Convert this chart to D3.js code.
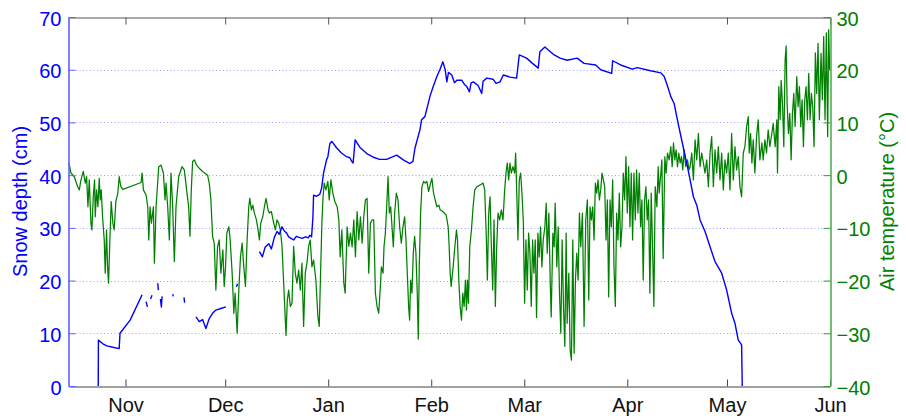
<!DOCTYPE html>
<html>
<head>
<meta charset="utf-8">
<script src="https://cdn.jsdelivr.net/npm/d3@7"></script>
<style>
  body { margin: 0; background: #fff; }
  text { font-family: "Liberation Sans", Arial, sans-serif; }
</style>
</head>
<body>
<svg id="chart" width="906" height="420"></svg>
<script>
// Season window (UTC)
const seasonStart = Date.UTC(2010, 9, 15);
const seasonEnd = Date.UTC(2011, 5, 1);

// Month ticks on the time axis
const monthTicks = ["2010-11-01", "2010-12-01", "2011-01-01", "2011-02-01",
                    "2011-03-01", "2011-04-01", "2011-05-01", "2011-06-01"];
const depthTicks = [0, 10, 20, 30, 40, 50, 60, 70];
const tempTicks = [-40, -30, -20, -10, 0, 10, 20, 30];

// Snow depth: [days since 15 Oct, cm]; null marks a gap in the record
const snowDepth = [
  [8.8, 0], [8.85, 8.7], [10.2, 8.0], [11.4, 7.6], [13.5, 7.3], [15.1, 7.1], [15.35, 10.0], [18.4, 12.5], [22.0, 17.3], null,
  [23.2, 16.0], [23.6, 15.0], null, [24.5, 16.5], [25.0, 17.2], null, [26.7, 19.5], [26.9, 18.2], null,
  [27.5, 16.5], [27.8, 15.0], [28.0, 17.0], null, [31.2, 17.4], [31.4, 17.0], null, [34.6, 16.8], [34.8, 15.8], null,
  [38.2, 13.1], [39.2, 12.2], [40.2, 12.6], [41.2, 10.9], [42.2, 12.8], [43.2, 13.8], [44.2, 14.4], [45.7, 14.7], [47.2, 15.0], null,
  [50.4, 18.8], [50.7, 19.4], null,
  [57.3, 25.5], [58.2, 24.5], [59.0, 26.3], [60.1, 27.0], [60.9, 26.0], [61.8, 28.2], [62.6, 29.3], [63.3, 28.8], [64.1, 30.2],
  [64.8, 29.4], [65.5, 29.0], [66.1, 28.3], [66.8, 28.0], [67.6, 27.7], [68.4, 28.4], [69.2, 28.2], [70.2, 28.0], [71.2, 28.3],
  [72.0, 28.1], [72.5, 28.6], [73.0, 28.3], [73.4, 32.0], [73.6, 36.2], [74.5, 36.0], [75.5, 36.4], [76.0, 37.5], [76.6, 40.4],
  [77.5, 42.9], [77.9, 43.5], [78.5, 46.0], [79.1, 46.4], [80.5, 45.2], [82.0, 44.2], [83.5, 43.5], [84.5, 43.3], [85.1, 42.6],
  [85.5, 42.3], [86.1, 46.7], [87.5, 45.3], [89.6, 44.1], [91.6, 43.4], [93.5, 43.0], [95.6, 43.0], [97.5, 43.5], [98.6, 43.8],
  [100.6, 42.9], [102.6, 42.2], [103.5, 42.6], [104.1, 45.1], [105.6, 48.6], [106.1, 50.5], [107.1, 51.1], [108.1, 53.6],
  [108.6, 54.9], [109.6, 56.8], [110.7, 58.7], [111.6, 60.0], [112.5, 61.5], [113.2, 60.0], [113.7, 57.7], [114.2, 59.5],
  [115.2, 59.0], [116.0, 57.5], [116.7, 58.0], [118.2, 58.0], [119.0, 57.2], [119.7, 56.8], [120.5, 55.8], [121.0, 57.5],
  [121.7, 57.7], [123.1, 57.0], [124.2, 55.5], [124.6, 57.8], [125.7, 58.4], [127.6, 58.2], [128.5, 57.4], [129.7, 57.7],
  [130.7, 59.0], [132.7, 58.6], [134.7, 58.4], [135.5, 62.8], [137.7, 62.2], [139.3, 61.3], [141.2, 60.3], [141.7, 63.4],
  [143.2, 64.3], [146.0, 62.8], [147.8, 62.2], [149.9, 61.8], [152.9, 62.2], [155.0, 61.2], [158.5, 60.9], [160.0, 60.0],
  [163.3, 59.3], [163.6, 61.7], [166.0, 60.9], [169.5, 60.1], [171.0, 60.4], [175.0, 59.8], [178.1, 59.4], [179.1, 58.7],
  [180.0, 57.1], [181.1, 54.9], [182.1, 53.6], [182.6, 52.0], [183.3, 49.8], [184.6, 46.0], [186.1, 41.6], [186.9, 39.1],
  [187.9, 35.9], [188.9, 34.3], [189.9, 31.5], [191.4, 29.3], [192.9, 26.4], [194.4, 23.6], [196.4, 21.4], [197.9, 18.2],
  [199.4, 13.8], [200.4, 11.9], [201.4, 8.7], [202.4, 7.8], [202.6, 0]
];

// Air temperature: [days since 15 Oct, °C]
const airTemp = [
  [0,2.3],[0.6,0.4],[1.6,-0.3],[2.6,-2.2],[3.1,-2.8],[3.6,-0.9],[4.3,0.7],[4.9,-1.5],[5.3,-0.3],[5.7,-6.0],[6.1,-0.9],[6.6,-9.1],
  [6.9,-10.4],[7.3,-4.1],[7.7,-0.9],[7.9,-7.9],[8.3,-2.8],[8.7,-6.0],[9.1,-0.6],[9.4,-4.7],[9.7,-2.8],[10.1,-7.9],[10.6,-12.3],
  [10.9,-18.6],[11.3,-10.4],[11.6,-17.3],[11.9,-20.5],[12.3,-12.3],[12.7,-5.0],[13.2,-9.1],[13.6,-10.4],[14.1,-5.0],[14.7,-3.4],
  [15.1,-0.3],[15.6,-2.2],[16.2,-2.7],
  [21.7,-1.4],[22.0,0.4],[22.4,-2.8],[23.2,-3.8],[23.7,-6.0],[24.0,-12.3],[24.4,-6.0],[24.8,-9.1],[25.4,-6.0],[25.7,-16.7],
  [26.2,-6.0],[27.0,1.6],[27.7,1.9],[28.4,0.4],[28.9,-4.7],[29.2,-1.5],[29.7,-6.0],[30.2,-12.3],[30.7,0.4],[31.2,-6.0],
  [31.7,-16.4],[32.2,-6.0],[33.0,-0.3],[34.0,1.6],[34.7,1.0],[35.4,-2.8],[36.0,-6.0],[36.4,-11.6],[36.8,-2.8],[37.2,2.6],
  [37.7,2.9],[38.4,1.9],[39.2,1.3],[40.2,0.7],[41.7,0.0],[42.2,-1.5],[42.7,-4.7],[43.2,-11.6],[43.7,-12.9],[44.2,-21.8],
  [44.7,-13.6],[45.2,-12.3],[45.7,-18.6],[46.3,-14.2],[46.7,-21.1],[47.1,-17.4],[47.5,-11.0],[48.1,-9.8],[48.5,-12.3],
  [49.1,-18.6],[49.6,-26.2],[50.0,-22.4],[50.6,-30.0],[51.1,-21.8],[51.6,-15.5],[52.1,-12.9],[52.6,-17.4],[53.1,-21.1],
  [53.6,-12.3],[54.1,-6.0],[54.4,-4.4],[54.9,-6.6],[55.3,-5.7],[55.8,-7.2],[56.4,-8.5],[56.9,-10.4],[57.3,-12.3],[57.7,-9.1],
  [58.3,-7.9],[58.8,-6.0],[59.3,-4.4],[59.9,-6.6],[60.3,-7.2],[60.9,-6.9],[61.6,-9.1],[62.1,-10.4],[62.6,-8.5],[63.1,-9.1],
  [63.6,-10.4],[64.1,-13.5],[64.6,-20.5],[65.1,-27.5],[65.3,-30.4],[65.7,-23.7],[66.1,-21.8],[66.6,-24.9],[67.1,-24.3],
  [67.6,-13.5],[68.1,-18.6],[68.6,-20.5],[69.1,-18.0],[69.6,-21.8],[70.1,-16.7],[70.6,-28.7],[71.1,-18.6],[71.6,-16.7],
  [72.1,-13.5],[72.6,-12.3],[73.1,-17.4],[73.6,-16.1],[74.3,-19.9],[74.9,-26.9],[75.3,-28.7],[75.7,-18.6],[76.1,-9.1],
  [76.4,-4.7],[76.8,-1.5],[77.3,-2.8],[77.9,-1.2],[78.3,-4.7],[78.8,-0.9],[79.4,-3.4],[80.0,-5.0],[80.7,-6.0],[81.2,-8.5],
  [81.6,-15.5],[82.1,-10.4],[82.7,-20.5],[83.1,-22.4],[83.7,-9.8],[84.2,-13.5],[84.7,-11.0],[85.2,-13.6],[85.7,-8.5],
  [86.2,-15.5],[86.7,-6.9],[87.2,-12.3],[87.7,-7.9],[88.2,-12.9],[88.7,-7.9],[89.2,-4.7],[89.7,-4.4],[90.2,-18.6],[90.7,-9.1],
  [91.2,-8.5],[91.7,-8.5],[92.2,-22.4],[92.7,-24.9],[93.2,-26.2],[93.7,-21.1],[94.0,-17.4],[94.5,-18.6],[94.8,-13.5],
  [95.2,-11.0],[95.6,-6.0],[96.0,-0.3],[96.4,-7.2],[96.8,-6.0],[97.2,-9.8],[97.6,-13.6],[98.0,-7.2],[98.5,-3.4],[99.0,-4.7],
  [99.5,-9.8],[100.0,-12.9],[100.5,-9.8],[101.0,-7.9],[101.4,-12.3],[101.8,-18.6],[102.2,-24.9],[102.5,-27.5],[102.8,-19.9],
  [103.2,-22.4],[103.6,-14.8],[104.0,-11.6],[104.4,-14.8],[104.8,-22.4],[105.1,-31.1],[105.4,-17.4],[105.8,-7.2],[106.2,-2.2],
  [106.7,-1.2],[107.2,-1.5],[107.7,-1.2],[108.2,-3.1],[108.8,-1.5],[109.2,-0.6],[109.7,-3.4],[110.2,-4.7],[110.7,-6.0],
  [111.3,-5.7],[111.7,-6.6],[112.5,-6.9],[113.5,-7.6],[114.1,-9.8],[114.4,-13.6],[114.7,-18.6],[115.0,-21.1],[115.6,-17.4],
  [116.1,-13.6],[116.6,-10.4],[116.9,-12.3],[117.3,-19.9],[117.7,-24.9],[118.1,-27.5],[118.5,-22.4],[118.9,-24.9],
  [119.3,-19.9],[119.6,-25.6],[119.9,-19.9],[120.2,-24.3],[120.6,-13.6],[121.1,-10.4],[121.6,-6.0],[122.1,-2.8],[122.8,-2.2],
  [123.6,-1.9],[124.6,-1.5],[125.1,-2.8],[125.6,-12.3],[125.9,-19.9],[126.3,-7.2],[126.7,-4.1],[127.1,-13.6],[127.5,-21.8],
  [127.9,-8.5],[128.3,-24.9],[128.7,-13.6],[129.1,-7.2],[129.6,-8.5],[130.1,-6.6],[130.6,-8.5],[131.1,-2.8],[131.5,0.4],
  [131.9,2.3],[132.3,-0.9],[132.7,2.3],[133.1,0.4],[133.6,1.6],[134.1,0.4],[134.4,4.2],[134.8,-4.7],[135.1,-12.3],[135.5,-0.9],
  [135.9,0.4],[136.3,-3.4],[136.7,-8.5],[137.1,-24.3],[137.5,-12.3],[137.9,-21.8],[138.3,-11.0],[138.7,-14.8],[139.1,-24.9],
  [139.5,-12.3],[139.9,-18.6],[140.3,-12.3],[140.7,-27.0],[141.1,-11.0],[141.5,-15.5],[141.9,-9.8],[142.3,-17.4],[142.7,-12.3],
  [143.2,-9.8],[143.6,-5.3],[143.9,-14.8],[144.4,-7.2],[144.8,-19.9],[145.1,-26.9],[145.6,-11.0],[146.0,-13.6],[146.3,-5.3],
  [146.8,-17.4],[147.2,-9.8],[147.6,-22.4],[148.0,-30.0],[148.4,-12.3],[148.8,-24.9],[149.2,-32.5],[149.6,-11.0],[149.9,-28.1],
  [150.4,-18.6],[150.8,-33.2],[151.2,-35.1],[151.6,-12.3],[152.0,-33.8],[152.4,-19.9],[152.8,-14.8],[153.2,-19.9],[153.6,-7.2],
  [154.0,-13.6],[154.5,-7.2],[155.0,-28.7],[155.5,-8.5],[156.0,-4.7],[156.4,-23.7],[156.8,-6.0],[157.2,-8.5],[157.6,-6.0],
  [158.0,-12.3],[158.4,-1.5],[158.8,-3.4],[159.2,-0.9],[159.6,-4.7],[160.0,-2.8],[160.4,0.4],[160.8,-0.9],[161.2,-2.2],
  [161.6,-12.3],[162.0,-4.7],[162.4,-23.1],[162.8,-4.7],[163.2,-9.8],[163.6,-0.9],[164.0,-17.4],[164.4,-24.9],[164.8,-7.2],
  [165.2,-12.3],[165.6,-3.4],[166.0,-13.6],[166.4,-9.8],[166.8,0.4],[167.2,-4.7],[167.6,3.5],[168.0,-7.2],[168.4,1.6],
  [168.8,-9.8],[169.2,0.4],[169.6,-12.3],[170.0,0.4],[170.4,-8.5],[170.8,1.0],[171.2,-7.2],[171.6,0.4],[172.0,-9.8],
  [172.4,-4.7],[172.8,-19.9],[173.2,-4.7],[173.6,-2.2],[174.0,-8.5],[174.4,-4.7],[174.8,-22.4],[175.2,-3.4],[175.6,-13.6],
  [176.0,-24.9],[176.4,-2.2],[176.9,-6.0],[177.3,1.6],[177.6,-3.4],[178.1,0.4],[178.4,2.9],[178.8,-15.8],[179.3,3.5],
  [179.7,0.4],[180.1,4.2],[180.6,2.9],[181.1,5.4],[181.5,1.6],[181.9,6.1],[182.3,2.9],[182.7,4.8],[183.1,1.6],[183.5,4.2],
  [183.9,2.3],[184.3,3.5],[184.7,1.0],[185.1,4.8],[185.6,1.6],[186.1,2.9],[186.6,1.0],[186.9,1.6],[187.4,4.2],[187.9,-0.9],
  [188.4,6.7],[188.9,2.9],[189.4,7.9],[189.9,1.6],[190.4,4.2],[190.9,2.3],[191.4,0.4],[191.9,2.9],[192.4,-2.2],[192.9,4.2],
  [193.4,7.3],[193.9,-2.2],[194.4,4.8],[194.9,0.4],[195.4,5.4],[195.9,-0.9],[196.4,4.2],[196.9,-2.8],[197.4,2.9],[197.9,0.4],
  [198.4,4.2],[198.9,-2.8],[199.4,7.9],[199.9,-0.9],[200.4,5.4],[200.9,1.0],[201.4,3.5],[201.9,-2.2],[202.4,-4.1],[202.9,4.2],
  [203.4,5.4],[203.9,9.2],[204.4,11.1],[204.7,4.2],[205.1,7.9],[205.5,2.3],[205.9,6.7],[206.4,0.4],[206.9,7.3],[207.4,10.5],
  [207.9,2.9],[208.5,6.1],[208.9,2.9],[209.4,6.7],[209.9,4.2],[210.4,8.6],[210.9,5.4],[211.5,7.9],[211.9,9.8],[212.5,5.4],
  [213.0,10.5],[213.2,0.4],[213.6,16.8],[214.0,10.5],[214.3,18.0],[214.7,13.6],[215.1,5.4],[215.5,21.9],[215.8,24.5],
  [216.1,13.6],[216.5,7.9],[216.9,11.7],[217.3,2.9],[217.7,11.7],[218.1,15.5],[218.5,9.2],[219.0,18.7],[219.4,13.0],
  [219.8,16.8],[220.2,9.2],[220.6,14.3],[221.0,5.4],[221.4,14.3],[221.8,16.8],[222.2,10.5],[222.6,19.3],[223.0,10.5],
  [223.4,15.5],[223.8,13.0],[224.2,5.4],[224.6,23.2],[225.0,15.5],[225.4,25.0],[225.8,10.5],[226.3,23.1],[226.7,14.3],
  [227.1,26.3],[227.5,10.5],[227.9,27.0],[228.3,7.3],[228.6,27.6],[228.9,20.0]
];

(function draw() {
  const DAY = 864e5;
  const toDate = d => new Date(seasonStart + d * DAY);

  const svg = d3.select("#chart");
  const plotLeft = 69, plotRight = 830, plotTop = 17, plotBottom = 386;

  const x = d3.scaleUtc().domain([new Date(seasonStart), new Date(seasonEnd)]).range([plotLeft, plotRight]);
  const yDepth = d3.scaleLinear().domain([0, 70]).range([plotBottom, plotTop]);
  const yTemp = d3.scaleLinear().domain([-40, 30]).range([plotBottom, plotTop]);

  const blue = "#0000ff", green = "#008000";

  // dotted horizontal grid on the depth scale
  svg.append("g").selectAll("line")
    .data(depthTicks.filter(v => v > 0 && v < 70))
    .join("line")
    .attr("x1", plotLeft).attr("x2", plotRight)
    .attr("y1", d => Math.round(yDepth(d)) + 0.5).attr("y2", d => Math.round(yDepth(d)) + 0.5)
    .attr("stroke", "#4444ff").attr("stroke-opacity", 0.5)
    .attr("stroke-dasharray", "1,2.5");

  // temperature trace
  const tempLine = d3.line()
    .x(d => x(toDate(d[0])))
    .y(d => yTemp(d[1]));
  svg.append("path")
    .datum(airTemp)
    .attr("d", tempLine)
    .attr("fill", "none")
    .attr("stroke", green)
    .attr("stroke-width", 1.25)
    .attr("stroke-linejoin", "round");

  // snow depth trace (gaps where the record is missing)
  const depthLine = d3.line()
    .defined(d => d !== null)
    .x(d => x(toDate(d[0])))
    .y(d => yDepth(d[1]));
  svg.append("path")
    .datum(snowDepth)
    .attr("d", depthLine)
    .attr("fill", "none")
    .attr("stroke", blue)
    .attr("stroke-width", 1.4)
    .attr("stroke-linejoin", "round");

  const months = monthTicks.map(s => new Date(s + "T00:00:00Z"));

  // bottom axis with inward ticks
  const gx = svg.append("g").attr("transform", `translate(0,${plotBottom + 0.5})`)
    .call(d3.axisBottom(x).tickValues(months).tickFormat(d3.utcFormat("%b"))
      .tickSizeInner(-7).tickSizeOuter(0));
  gx.select(".domain").attr("stroke", "#444");
  gx.selectAll(".tick line").attr("stroke", "#444");
  gx.selectAll(".tick text").attr("y", 25).attr("dy", 0)
    .attr("font-size", 20).attr("fill", "#111");

  // top frame with inward ticks
  const gt = svg.append("g").attr("transform", `translate(0,${plotTop + 0.5})`)
    .call(d3.axisTop(x).tickValues(months).tickFormat("")
      .tickSizeInner(-7).tickSizeOuter(0));
  gt.select(".domain").attr("stroke", "#555");
  gt.selectAll(".tick line").attr("stroke", "#555");

  // left axis: snow depth
  const gl = svg.append("g").attr("transform", `translate(${plotLeft - 0.5},0)`)
    .call(d3.axisLeft(yDepth).tickValues(depthTicks).tickSizeInner(-7).tickSizeOuter(0).tickPadding(7));
  gl.select(".domain").attr("stroke", "#6060ff").attr("stroke-width", 1.6);
  gl.selectAll(".tick line").attr("stroke", "#6060ff");
  gl.selectAll(".tick text").attr("font-size", 20).attr("fill", blue).attr("dy", "0.4em");

  // right axis: air temperature
  const gr = svg.append("g").attr("transform", `translate(${plotRight + 0.5},0)`)
    .call(d3.axisRight(yTemp).tickValues(tempTicks).tickSizeInner(-7).tickSizeOuter(0).tickPadding(6));
  gr.select(".domain").attr("stroke", "#4fae4f").attr("stroke-width", 1.6);
  gr.selectAll(".tick line").attr("stroke", "#3a9a3a");
  gr.selectAll(".tick text").attr("font-size", 20).attr("fill", green).attr("dy", "0.4em");

  // axis titles
  svg.append("text")
    .attr("transform", `translate(27,${(plotTop + plotBottom) / 2}) rotate(-90)`)
    .attr("text-anchor", "middle").attr("font-size", 20).attr("fill", blue)
    .text("Snow depth (cm)");
  svg.append("text")
    .attr("transform", `translate(894,${(plotTop + plotBottom) / 2}) rotate(-90)`)
    .attr("text-anchor", "middle").attr("font-size", 20).attr("fill", green)
    .text("Air temperature (°C)");
})();
</script>
</body>
</html>
